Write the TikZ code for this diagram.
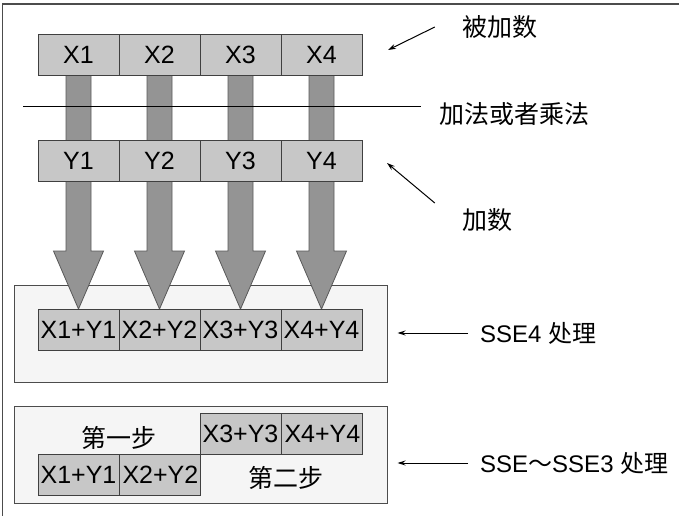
\documentclass[tikz,border=0pt]{standalone}
\usepackage{fontspec}
\setmainfont{Liberation Sans}
\newfontfamily\cjk{Noto Sans CJK SC}
\usepackage{tikz}
\usetikzlibrary{arrows.meta,positioning,calc}
\pgfdeclarelayer{back}
\pgfdeclarelayer{mid}
\pgfsetlayers{back,mid,main}

\begin{document}
\begin{tikzpicture}[
    x=1pt, y=1pt,
    cell/.style={rectangle, draw=black!75, fill=black!22, minimum width=81pt,
                 minimum height=41pt, inner sep=0pt, line width=0.9pt,
                 font=\fontsize{25}{25}\selectfont},
    panel/.style={rectangle, draw=black!70, fill=black!4, line width=1pt,
                  minimum width=373pt, minimum height=97pt},
    note/.style={inner sep=0pt, font=\fontsize{25}{25}\selectfont\cjk},
    side/.style={inner sep=0pt, anchor=west, font=\fontsize{24}{24}\selectfont},
    ptr/.style={-{Stealth[length=8pt,width=5pt]}, line width=1pt},
    bigarrow/.style={draw=black!65, fill=black!42, line width=0.8pt}
]
\useasboundingbox (0,0) rectangle (679,-516);
\draw[black!70, line width=1.5pt] (679,-4) -- (2.5,-4) -- (2.5,-516);

% operands
\foreach \i in {1,...,4} {
  \node[cell] (x\i) at (-2.5+81*\i, -55)    {X\i};
  \node[cell] (y\i) at (-2.5+81*\i, -160.5) {Y\i};
  \node[cell] (s\i) at (-2.5+81*\i, -330)   {X\i+Y\i};
}

% SSE4: one instruction
\begin{pgfonlayer}{back}
\node[panel] (p1) at (200.5,-333.5) {};
\node[panel] (p2) at (200.5,-454.5) {};
\end{pgfonlayer}

% SSE..SSE3: two steps
\node[cell] (b1) at (78.5,-475)  {X1+Y1};
\node[cell, right=0pt of b1] (b2) {X2+Y2};
\node[cell] (b3) at (240.5,-434) {X3+Y3};
\node[cell, right=0pt of b3] (b4) {X4+Y4};
\node[note] (step1) at ($(b1)!0.5!(b2)+(0,37)$)   {第一步};
\node[note] (step2) at ($(b3)!0.55!(b4)+(0,-44)$) {第二步};

\begin{pgfonlayer}{mid}
\foreach \i in {1,...,4}
  \draw[bigarrow] ($(x\i.center)+(-12.5,0)$) -- ($(s\i.north)+(-12.5,58)$)
    -- ++(-12.5,0) -- (s\i.north) -- ++(25,58) -- ++(-12.5,0)
    -- ($(x\i.center)+(12.5,0)$) -- cycle;
\end{pgfonlayer}

% labels on the right
\node[note] (lbl1) at (499.5,-27) {被加数};
\node[note] (lbl2) at (514,-114)  {加法或者乘法};
\node[note] (lbl3) at (487,-220)  {加数};
\node[side] (lbl4) at (480,-333)  {SSE4 {\cjk 处理}};
\node[side] (lbl5) at (480,-463)  {SSE{\cjk ～}SSE3 {\cjk 处理}};

\coordinate (t1) at (388,-50);
\coordinate (t3) at (387,-163);
\coordinate (cut) at (23,-107);

\draw[ptr] ([xshift=-27pt]lbl1.west) -- (t1);
\draw[ptr] ([shift={(-27pt,17pt)}]lbl3.west) -- (t3);
\draw[line width=1pt, shorten >=18pt] (cut) -- (cut -| lbl2.west);
\draw[ptr] ([xshift=-12pt]lbl4.west) -- ([xshift=10pt]p1.east |- lbl4.west);
\draw[ptr] ([xshift=-12pt]lbl5.west) -- ([xshift=10pt]p2.east |- lbl5.west);
\end{tikzpicture}
\end{document}
